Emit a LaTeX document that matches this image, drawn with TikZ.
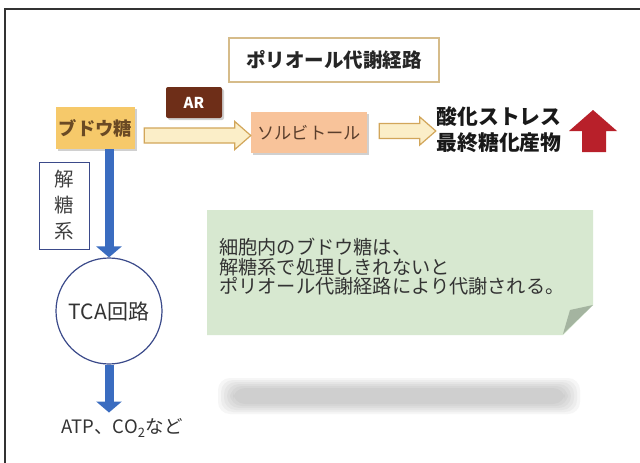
\documentclass[tikz,border=0pt]{standalone}
\usepackage{fontspec}
\setmainfont{Noto Sans CJK JP}
\usetikzlibrary{positioning,arrows.meta,shadows,calc}

\definecolor{framegray}{HTML}{333333}
\definecolor{titleline}{HTML}{D6BC8A}
\definecolor{glufill}{HTML}{F6C96A}
\definecolor{glutext}{HTML}{6A4A24}
\definecolor{arfill}{HTML}{6E2E18}
\definecolor{sorfill}{HTML}{F8C39A}
\definecolor{sortext}{HTML}{5A3E2C}
\definecolor{arrfill}{HTML}{FBEEC8}
\definecolor{arrline}{HTML}{D2A65A}
\definecolor{upred}{HTML}{B8202A}
\definecolor{pathblue}{HTML}{3A6CC0}
\definecolor{boxblue}{HTML}{3B4A8A}
\definecolor{notegreen}{HTML}{D7E8D0}
\definecolor{notefold}{HTML}{A4B4A0}
\definecolor{notetextc}{HTML}{333333}

% hollow block arrow between two points at the same height
\newcommand{\blockarrow}[2]{%
  \draw[blockarr] let \p1=(#1), \p2=(#2) in
    (\x1,\y1+7.5pt) -- (\x2-16pt,\y1+7.5pt) -- (\x2-16pt,\y1+14pt) -- (\x2,\y1)
    -- (\x2-16pt,\y1-14pt) -- (\x2-16pt,\y1-7.5pt) -- (\x1,\y1-7.5pt) -- cycle;}

\begin{document}
\begin{tikzpicture}[x=1pt, y=-1pt,
    every node/.style={inner sep=0pt},
    boxshadow/.style={drop shadow={shadow xshift=2pt, shadow yshift=-2pt, opacity=0.3, fill=black!60}},
    titlebox/.style={draw=titleline, line width=1.2pt, fill=white, minimum width=210pt, minimum height=44pt,
        font=\fontsize{19.5}{22}\selectfont\bfseries, text=black!85},
    glubox/.style={fill=glufill, boxshadow, minimum width=79pt, minimum height=42pt,
        font=\fontsize{18.3}{20}\selectfont\bfseries, text=glutext},
    arbox/.style={fill=arfill, rounded corners=2pt, boxshadow, minimum width=56pt, minimum height=31pt,
        font=\fontsize{15}{16}\selectfont\bfseries, text=white},
    sorbox/.style={fill=sorfill, boxshadow, minimum width=116pt, minimum height=41pt,
        font=\fontsize{17.2}{19}\selectfont, text=sortext},
    result/.style={align=center, font=\fontsize{20.8}{26}\selectfont\bfseries, text=black!90},
    blockarr/.style={draw=arrline, fill=arrfill, line width=1.2pt, line join=miter},
    glybox/.style={draw=boxblue, line width=1pt, fill=white, minimum width=50pt, minimum height=87pt,
        align=center, font=\fontsize{19.5}{26}\selectfont, text=black!75},
    tcacirc/.style={circle, draw=boxblue, line width=1.2pt, fill=white, minimum size=106pt,
        font=\fontsize{21}{22}\selectfont, text=black!80},
    bluearr/.style={draw=pathblue, line width=9pt, -{Triangle[width=25pt,length=11pt]}},
    atp/.style={font=\fontsize{18.5}{20}\selectfont, text=black!80},
    notetext/.style={align=left, font=\fontsize{19.2}{19.5}\selectfont, text=notetextc}]

    % page and outer frame
    \clip (0,0) rectangle (640,463);
    \fill[white] (0,0) rectangle (640,463);
    \draw[framegray, line width=1.2pt] (5,470) -- (5,9) -- (650,9);

    % polyol pathway row
    \node[titlebox] (title) at (334,60) {ポリオール代謝経路};
    \node[glubox] (glu) at (95.5,128) {ブドウ糖};
    \node[arbox] (ar) at (194,102.5) {AR};
    \node[sorbox] (sor) at (309,132.5) {ソルビトール};
    \node[result, text width=126pt] (res) at (499,130) {酸化ストレス\\最終糖化産物};

    \coordinate (a1s) at ($(glu.east)+(9,7.5)$);
    \coordinate (a1e) at (sor.west |- a1s);
    \blockarrow{a1s}{a1e}
    \coordinate (a2s) at ($(sor.east)+(12,-1.5)$);
    \coordinate (a2e) at (res.west |- a2s);
    \blockarrow{a2s}{a2e}

    % red up arrow
    \fill[upred] (569,131) -- (593,110) -- (617,131) -- (606,131) -- (606,152)
        -- (582,152) -- (582,131) -- cycle;

    % glycolysis column
    \node[glybox] (gly) at (64,205.5) {解\\糖\\系};
    \node[tcacirc] (tca) at (109,311) {TCA回路};
    \node[atp] (atp) at (122,428) {ATP、CO\textsubscript{2}など};

    \draw[bluearr] (tca.north |- glu.south) -- (tca.north);
    \draw[bluearr, shorten >=6pt] (tca.south) -- (tca.south |- atp.north);

    % note with folded corner
    \fill[notegreen] (207,210) -- (593,210) -- (593,305) -- (563,335) -- (207,335) -- cycle;
    \fill[notefold] (593,305) -- (570,310) -- (563,334) -- cycle;
    \node[notetext, anchor=west] (note) at (219,267)
        {細胞内のブドウ糖は、\\解糖系で処理しきれないと\\ポリオール代謝経路により代謝される。};

    % soft shadow below the note
    \foreach \i in {0,...,5}{
        \fill[black!60, opacity=0.06, rounded corners=12pt]
            (218+3*\i,378+2*\i) rectangle (580-3*\i,414-2*\i);
    }
\end{tikzpicture}
\end{document}
